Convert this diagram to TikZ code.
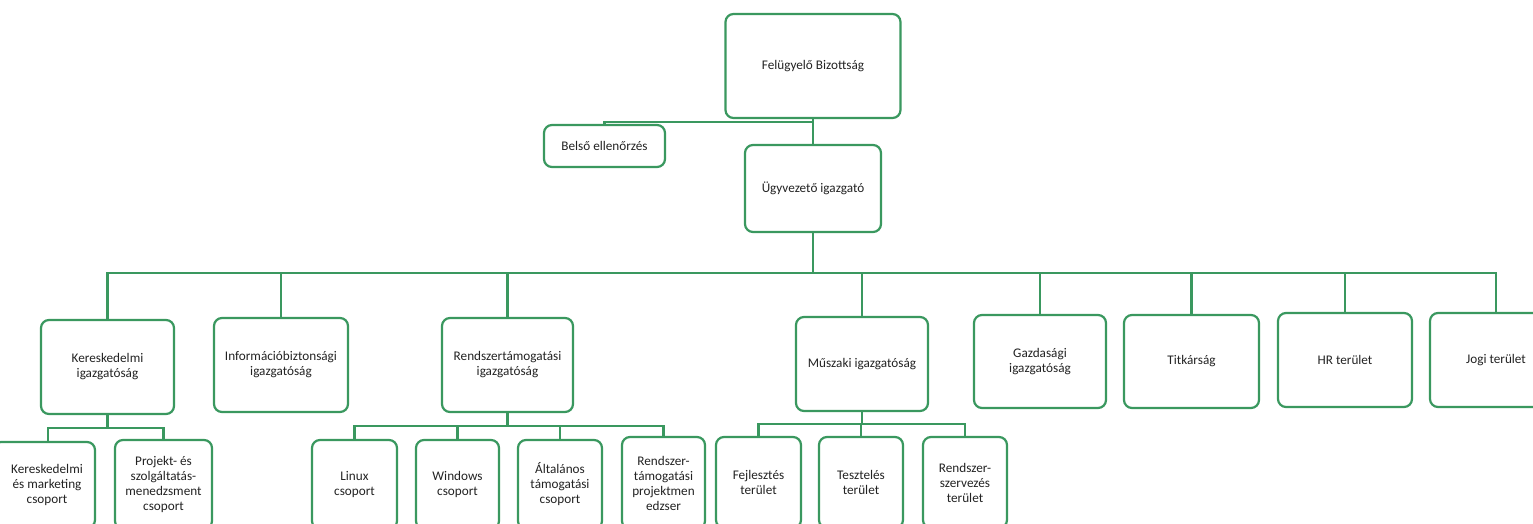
\documentclass[tikz,border=0pt]{standalone}
\usepackage{fontspec}
\setmainfont{Carlito}
\usetikzlibrary{positioning}
\definecolor{boxgreen}{RGB}{58,152,95}
\definecolor{txt}{RGB}{35,35,35}
\begin{document}
\begin{tikzpicture}[x=1pt,y=-1pt,
  orgbox/.style={draw=boxgreen, line width=2.2pt, rounded corners=8pt, fill=white,
    inner sep=2pt, align=center, text=txt, font=\fontsize{13.2}{15}\selectfont},
  conn/.style={draw=boxgreen, line width=2.2pt}]
\useasboundingbox (0,0) rectangle (1533,524);
\clip (0,0) rectangle (1533,524);
\fill[white] (0,0) rectangle (1533,524);

% top
\node[orgbox, minimum width=175pt, minimum height=104pt] (fel) at (813,66) {Felügyelő Bizottság};
\node[orgbox, minimum width=136pt, minimum height=87pt] (ugy) at (813,188.5) {Ügyvezető igazgató};
\node[orgbox, minimum width=121pt, minimum height=42pt] (bel) at (604.5,146) {Belső ellenőrzés};

% level 2
\node[orgbox, minimum width=133pt, minimum height=94pt] (ker) at (107.5,367) {Kereskedelmi\\igazgatóság};
\node[orgbox, minimum width=134pt, minimum height=94pt] (inf) at (281,365) {Információbiztonsági\\igazgatóság};
\node[orgbox, minimum width=131pt, minimum height=94pt] (ren) at (507.5,365) {Rendszertámogatási\\igazgatóság};
\node[orgbox, minimum width=132pt, minimum height=94pt] (mus) at (862,364) {Műszaki igazgatóság};
\node[orgbox, minimum width=132pt, minimum height=93pt] (gaz) at (1040,361.5) {Gazdasági\\igazgatóság};
\node[orgbox, minimum width=135pt, minimum height=93pt] (tit) at (1191.5,361.5) {Titkárság};
\node[orgbox, minimum width=134pt, minimum height=94pt] (hr) at (1345,360) {HR terület};
\node[orgbox, minimum width=132pt, minimum height=94pt] (jog) at (1496,360) {Jogi terület};

% level 3
\node[orgbox, minimum width=102pt, minimum height=86pt] (kmc) at (44,485) {\hspace*{6pt}Kereskedelmi\\\hspace*{6pt}és marketing\\\hspace*{6pt}csoport};
\node[orgbox, minimum width=97pt, minimum height=89pt] (prj) at (163.5,484.5) {Projekt- és\\szolgáltatás-\\menedzsment\\csoport};
\node[orgbox, minimum width=85pt, minimum height=89pt] (lin) at (354.5,484.5) {Linux\\csoport};
\node[orgbox, minimum width=83pt, minimum height=89pt] (win) at (457.5,484.5) {Windows\\csoport};
\node[orgbox, minimum width=84pt, minimum height=89pt] (alt) at (560,484.5) {Általános\\támogatási\\csoport};
\node[orgbox, minimum width=83pt, minimum height=92pt] (rpm) at (663.5,483) {Rendszer-\\támogatási\\projektmen\\edzser};
\node[orgbox, minimum width=85pt, minimum height=91pt] (fej) at (758.5,482.5) {Fejlesztés\\terület};
\node[orgbox, minimum width=84pt, minimum height=91pt] (tes) at (861,482.5) {Tesztelés\\terület};
\node[orgbox, minimum width=84pt, minimum height=91pt] (rsz) at (965,482.5) {Rendszer-\\szervezés\\terület};

% connectors top
\coordinate (j0) at (813,122);
\draw[conn] (fel.south) -- (ugy.north);
\draw[conn] (j0) -| (bel.north);

% main bus
\coordinate (bus) at (813,273);
\draw[conn] (ugy.south) -- (bus);
\foreach \n in {ker,inf,ren,mus,gaz,tit,hr,jog}{
  \draw[conn] (bus) -| (\n.north);
}

% sub buses
\coordinate (kb) at (107.5,428);
\coordinate (kmctop) at (48,442);
\draw[conn] (ker.south) -- (kb);
\draw[conn] (kb) -| (kmctop);
\draw[conn] (kb) -| (prj.north);

\coordinate (rb) at (507.5,426);
\draw[conn] (ren.south) -- (rb);
\foreach \n in {lin,win,alt,rpm}{ \draw[conn] (rb) -| (\n.north); }

\coordinate (mb) at (862,424);
\draw[conn] (mus.south) -- (mb);
\foreach \n in {fej,tes,rsz}{ \draw[conn] (mb) -| (\n.north); }
\end{tikzpicture}
\end{document}
